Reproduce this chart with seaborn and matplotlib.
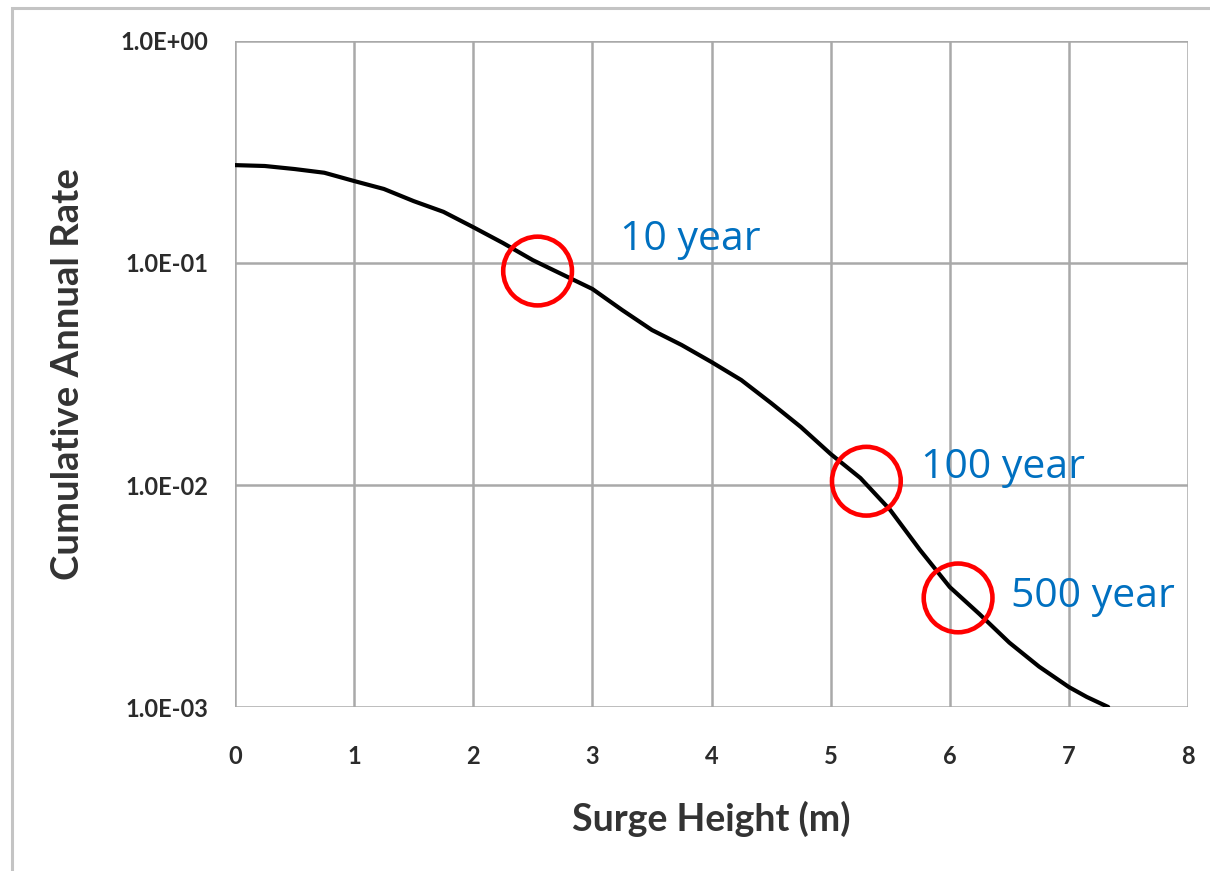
import matplotlib
matplotlib.use("Agg")
import matplotlib.pyplot as plt
import matplotlib.patches as mpatches
from matplotlib.ticker import FixedLocator, FixedFormatter, NullLocator
import seaborn as sns
import pandas as pd

# Hazard curve: cumulative annual rate of exceedance vs. surge height
surge_height = [0.0, 0.25, 0.5, 0.75, 1.0, 1.25, 1.5, 1.75, 2.0, 2.25, 2.5, 3.0,
                3.25, 3.5, 3.75, 4.0, 4.25, 4.5, 4.75, 5.0, 5.25, 5.5, 5.75, 6.0,
                6.25, 6.5, 6.75, 7.0, 7.15, 7.33]
annual_rate = [0.276, 0.2735, 0.265, 0.255, 0.234, 0.2155, 0.190, 0.170, 0.145, 0.123,
               0.103, 0.0764, 0.0614, 0.0499, 0.0427, 0.0358, 0.0297, 0.0234, 0.01825,
               0.0138, 0.01075, 0.00772, 0.0051, 0.00347, 0.00262, 0.00195, 0.00152,
               0.00123, 0.00111, 0.001]

# Return-period markers
rp_labels = ["10 year", "100 year", "500 year"]
rp_height = [2.54, 5.30, 6.07]
rp_rate = [0.092, 0.0104, 0.0031]
rp_text_x = [3.23, 5.76, 6.515]
rp_text_y = [0.127, 0.0119, 0.00313]

y_ticks = [1e-3, 1e-2, 1e-1, 1e0]
y_tick_labels = ["1.0E-03", "1.0E-02", "1.0E-01", "1.0E+00"]
x_ticks = [0, 1, 2, 3, 4, 5, 6, 7, 8]

sns.set_theme(style="white")
plt.rcParams["font.family"] = ["Lato", "DejaVu Sans"]

curve = pd.DataFrame({"height": surge_height, "rate": annual_rate})
marks = pd.DataFrame({"height": rp_height, "rate": rp_rate})

fig = plt.figure(figsize=(12.10, 8.71), dpi=100)
ax = fig.add_axes([235 / 1210, 1 - 707 / 871, (1188 - 235) / 1210, (707 - 41) / 871])

# Outer chart frame
fig.patches.append(mpatches.Rectangle((12 / 1210, -0.05), 1.1, 1 - 8 / 871 + 0.05,
                                      transform=fig.transFigure, fill=False,
                                      edgecolor="#c4c4c4", linewidth=2.2, zorder=0))

grid_color = "#a9a9a9"
ax.set_yscale("log")
ax.set_xlim(0, 8)
ax.set_ylim(1e-3, 1e0)

ax.yaxis.set_major_locator(FixedLocator(y_ticks))
ax.yaxis.set_major_formatter(FixedFormatter(y_tick_labels))
ax.yaxis.set_minor_locator(NullLocator())
ax.set_xticks(x_ticks)

ax.grid(True, which="major", color=grid_color, linewidth=1.8)
for s in ax.spines.values():
    s.set_visible(False)
ax.tick_params(axis="both", which="major", direction="out", length=7, width=1.5,
               color=grid_color, labelcolor="#2b2b2b", labelsize=17)
ax.tick_params(axis="x", pad=20)
ax.tick_params(axis="y", pad=12)
for lab in ax.get_xticklabels() + ax.get_yticklabels():
    lab.set_fontweight("bold")

sns.lineplot(data=curve, x="height", y="rate", ax=ax, color="black", linewidth=3.0,
             zorder=3, legend=False)

sns.scatterplot(data=marks, x="height", y="rate", ax=ax, s=2450, facecolor="none",
                edgecolor="#ff0000", linewidth=3.3, zorder=4, legend=False)

for label, tx, ty in zip(rp_labels, rp_text_x, rp_text_y):
    ax.text(tx, ty, label, ha="left", va="center", fontsize=29.5, color="#0070c0",
            family=["Open Sans", "DejaVu Sans"], zorder=5)

ax.set_xlabel("Surge Height (m)", fontsize=27, fontweight="bold", color="#333333", labelpad=24)
ax.set_ylabel("Cumulative Annual Rate", fontsize=27.5, fontweight="bold", color="#333333", labelpad=26)

fig.savefig("out.png", dpi=100, facecolor="white")
